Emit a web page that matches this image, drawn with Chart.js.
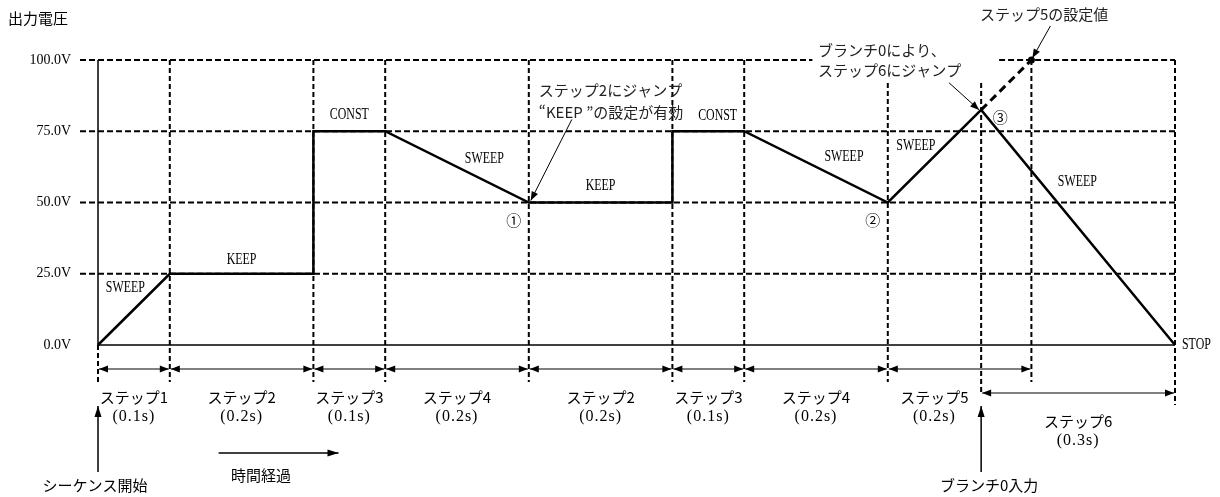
<!DOCTYPE html>
<html lang="ja">
<head>
<meta charset="utf-8">
<script src="https://cdn.jsdelivr.net/npm/chart.js@4.4.0/dist/chart.umd.min.js"></script>
<style>
  html, body { margin: 0; padding: 0; background: #fff; }
  #wrap { width: 1220px; height: 497px; }
</style>
</head>
<body>
<div id="wrap"><canvas id="seqChart" width="1220" height="497"></canvas></div>
<script>
// 出力電圧シーケンス (時間 s / 電圧 V)
const outTimes = [0, 0.1, 0.3, 0.3, 0.4, 0.6, 0.8, 0.8, 0.9, 1.1, 1.23, 1.5];
const outVolts = [0, 25, 25, 75, 75, 50, 50, 75, 75, 50, 82.5, 0];
// ステップ5の設定値に向かう破線 (ブランチで中断)
const setTimes = [1.23, 1.3];
const setVolts = [82.5, 100];

const yTicks = [0, 25, 50, 75, 100];
const yTickLabels = ['0.0V', '25.0V', '50.0V', '75.0V', '100.0V'];

const stepBounds = [0, 0.1, 0.3, 0.4, 0.6, 0.8, 0.9, 1.1, 1.3];
const stepNames = ['ステップ1', 'ステップ2', 'ステップ3', 'ステップ4', 'ステップ2', 'ステップ3', 'ステップ4', 'ステップ5'];
const stepLengths = ['(0.1s)', '(0.2s)', '(0.1s)', '(0.2s)', '(0.2s)', '(0.1s)', '(0.2s)', '(0.2s)'];
const branchTime = 1.23;
const stopTime = 1.5;
const step6Name = 'ステップ6';
const step6Length = '(0.3s)';

const modeNames = ['SWEEP', 'KEEP', 'CONST', 'SWEEP', 'KEEP', 'CONST', 'SWEEP', 'SWEEP', 'SWEEP'];

const JP = '"Noto Sans CJK JP", sans-serif';
const SERIF = '"Liberation Serif", "DejaVu Serif", serif';

function seg(ctx, x1, y1, x2, y2) {
    ctx.beginPath();
    ctx.moveTo(x1, y1);
    ctx.lineTo(x2, y2);
    ctx.stroke();
}

function head(ctx, x, y, ang, len, half) {
    ctx.save();
    ctx.translate(x, y);
    ctx.rotate(ang);
    ctx.beginPath();
    ctx.moveTo(0, 0);
    ctx.lineTo(-len, -half);
    ctx.lineTo(-len, half);
    ctx.closePath();
    ctx.fill();
    ctx.restore();
}

function arrow(ctx, x1, y1, x2, y2, len, half) {
    seg(ctx, x1, y1, x2, y2);
    head(ctx, x2, y2, Math.atan2(y2 - y1, x2 - x1), len, half);
}

function label(ctx, str, x, y, font, align, sx) {
    ctx.save();
    ctx.font = font;
    ctx.textAlign = align || 'center';
    ctx.textBaseline = 'middle';
    ctx.translate(x, y);
    if (sx) ctx.scale(sx, 1);
    ctx.fillText(str, 0, 0);
    ctx.restore();
}

const diagramPlugin = {
    id: 'diagram',
    beforeDatasetsDraw(chart) {
        const { ctx, scales: { x, y } } = chart;
        const X = v => x.getPixelForValue(v);
        const Y = v => y.getPixelForValue(v);
        const base = Y(0), top = Y(100);

        ctx.save();
        ctx.strokeStyle = '#000';
        ctx.fillStyle = '#000';

        // 横の破線
        ctx.lineWidth = 2;
        ctx.setLineDash([6, 3]);
        yTicks.slice(1).forEach(v => {
            if (v === 100) {
                seg(ctx, X(0) - 18, Y(v), X(0.995), Y(v));
                seg(ctx, X(1.255), Y(v), X(stopTime), Y(v));
            } else {
                seg(ctx, X(0) - 18, Y(v), X(stopTime), Y(v));
            }
        });

        // 縦の破線
        ctx.setLineDash([5, 3]);
        stepBounds.forEach(t => {
            const y0 = t === 0 ? base : (t === 1.1 ? top + 23 : top);
            seg(ctx, X(t), y0, X(t), base + 37);
        });
        seg(ctx, X(branchTime), top + 23, X(branchTime), base + 50);
        seg(ctx, X(stopTime), top, X(stopTime), base + 60);

        // 軸
        ctx.setLineDash([]);
        ctx.lineWidth = 1.5;
        seg(ctx, X(0), top, X(0), base);
        seg(ctx, X(0), base, X(stopTime), base);
        ctx.restore();
    },
    afterDatasetsDraw(chart) {
        const { ctx, scales: { x, y } } = chart;
        const X = v => x.getPixelForValue(v);
        const Y = v => y.getPixelForValue(v);
        const base = Y(0);

        ctx.save();
        ctx.strokeStyle = '#000';
        ctx.fillStyle = '#000';

        // 縦軸ラベル
        label(ctx, '出力電圧', 8, 18, '15px ' + JP, 'left');
        yTicks.forEach((v, i) => {
            label(ctx, yTickLabels[i], 71, Y(v), '14px ' + SERIF, 'right');
        });

        // 動作モード
        const modePos = [[0.038, 20], [0.2, 30], [0.35, 80.7], [0.538, 65.6], [0.7, 55.8],
                         [0.863, 80.4], [1.039, 66], [1.139, 70], [1.364, 57.5]];
        modeNames.forEach((m, i) => {
            label(ctx, m, X(modePos[i][0]), Y(modePos[i][1]), '17px ' + SERIF, 'center', 0.7);
        });
        label(ctx, 'STOP', X(stopTime) + 7, base, '17px ' + SERIF, 'left', 0.7);

        // 丸数字
        label(ctx, '①', X(0.6) - 15, Y(50) + 18, '15px ' + JP);
        label(ctx, '②', X(1.1) - 15, Y(50) + 18, '15px ' + JP);
        label(ctx, '③', X(branchTime) + 19, Y(82.5) + 7, '15px ' + JP);

        // 注記
        ctx.fillStyle = '#222';
        label(ctx, 'ステップ2にジャンプ', X(0.6) + 10, 90, '15px ' + JP, 'left');
        label(ctx, '“KEEP ”の設定が有効', X(0.6) + 10, 112, '15px ' + JP, 'left');
        label(ctx, 'ブランチ0により、', 818, 50, '15px ' + JP, 'left');
        label(ctx, 'ステップ6にジャンプ', 818, 70, '15px ' + JP, 'left');
        label(ctx, 'ステップ5の設定値', 980, 14, '15px ' + JP, 'left');
        ctx.fillStyle = '#000';
        ctx.lineWidth = 1;
        arrow(ctx, X(0.6) + 43, Y(50) - 83, X(0.6) + 2, Y(50) - 2, 9, 3.5);
        arrow(ctx, X(branchTime) - 32, Y(82.5) - 27, X(branchTime) - 2, Y(82.5), 9, 3.5);
        arrow(ctx, X(1.3) + 19, Y(100) - 34, X(1.3) + 1, Y(100) - 2, 9, 3.5);

        // 各ステップの区間矢印
        const dimY = base + 24;
        for (let i = 0; i < stepNames.length; i++) {
            const a = X(stepBounds[i]), b = X(stepBounds[i + 1]);
            seg(ctx, a + 1, dimY, b - 1, dimY);
            head(ctx, a + 1, dimY, Math.PI, 9, 3.5);
            head(ctx, b - 1, dimY, 0, 9, 3.5);
            // ブランチ入力の線にかからないように寄せる
            const mid = (a + Math.min(b, X(branchTime))) / 2;
            label(ctx, stepNames[i], mid, base + 52, '15px ' + JP);
            ctx.save();
            ctx.letterSpacing = '1px';
            label(ctx, stepLengths[i], mid, base + 72, '16px ' + SERIF);
            ctx.restore();
        }
        const a6 = X(branchTime), b6 = X(stopTime);
        seg(ctx, a6 + 1, base + 48, b6 - 1, base + 48);
        head(ctx, a6 + 1, base + 48, Math.PI, 9, 3.5);
        head(ctx, b6 - 1, base + 48, 0, 9, 3.5);
        label(ctx, step6Name, (a6 + b6) / 2, base + 76, '15px ' + JP);
        ctx.save();
        ctx.letterSpacing = '1px';
        label(ctx, step6Length, (a6 + b6) / 2, base + 96, '16px ' + SERIF);
        ctx.restore();

        // 下側の説明
        ctx.lineWidth = 1.5;
        arrow(ctx, X(0), base + 127, X(0), base + 61, 11, 3.5);
        label(ctx, 'シーケンス開始', X(0) - 3, base + 140, '15px ' + JP);
        arrow(ctx, X(0.168), base + 108, X(0.335), base + 108, 11, 3.5);
        label(ctx, '時間経過', X(0.227), base + 130, '15px ' + JP);
        arrow(ctx, X(branchTime), base + 127, X(branchTime), base + 61, 11, 3.5);
        label(ctx, 'ブランチ0入力', X(branchTime) + 8, base + 140, '15px ' + JP);

        ctx.restore();
    }
};

const ctx = document.getElementById('seqChart').getContext('2d');
new Chart(ctx, {
    type: 'scatter',
    data: {
        datasets: [
            {
                label: '出力電圧',
                data: outTimes.map((t, i) => ({ x: t, y: outVolts[i] })),
                showLine: true,
                borderColor: '#000',
                borderWidth: 2.5,
                pointRadius: 0,
                tension: 0,
                clip: false
            },
            {
                label: 'ステップ5の設定値',
                data: setTimes.map((t, i) => ({ x: t, y: setVolts[i] })),
                showLine: true,
                borderColor: '#000',
                borderWidth: 3,
                borderDash: [8, 5],
                pointRadius: [0, 3.5],
                pointBackgroundColor: '#000',
                pointBorderWidth: 0,
                tension: 0,
                clip: false
            }
        ]
    },
    options: {
        responsive: false,
        animation: false,
        layout: { padding: { left: 98, right: 45, top: 60, bottom: 152 } },
        scales: {
            x: { type: 'linear', min: 0, max: 1.5, display: false },
            y: { type: 'linear', min: 0, max: 100, display: false }
        },
        plugins: {
            legend: { display: false },
            tooltip: { enabled: false }
        }
    },
    plugins: [diagramPlugin]
});
</script>
</body>
</html>
